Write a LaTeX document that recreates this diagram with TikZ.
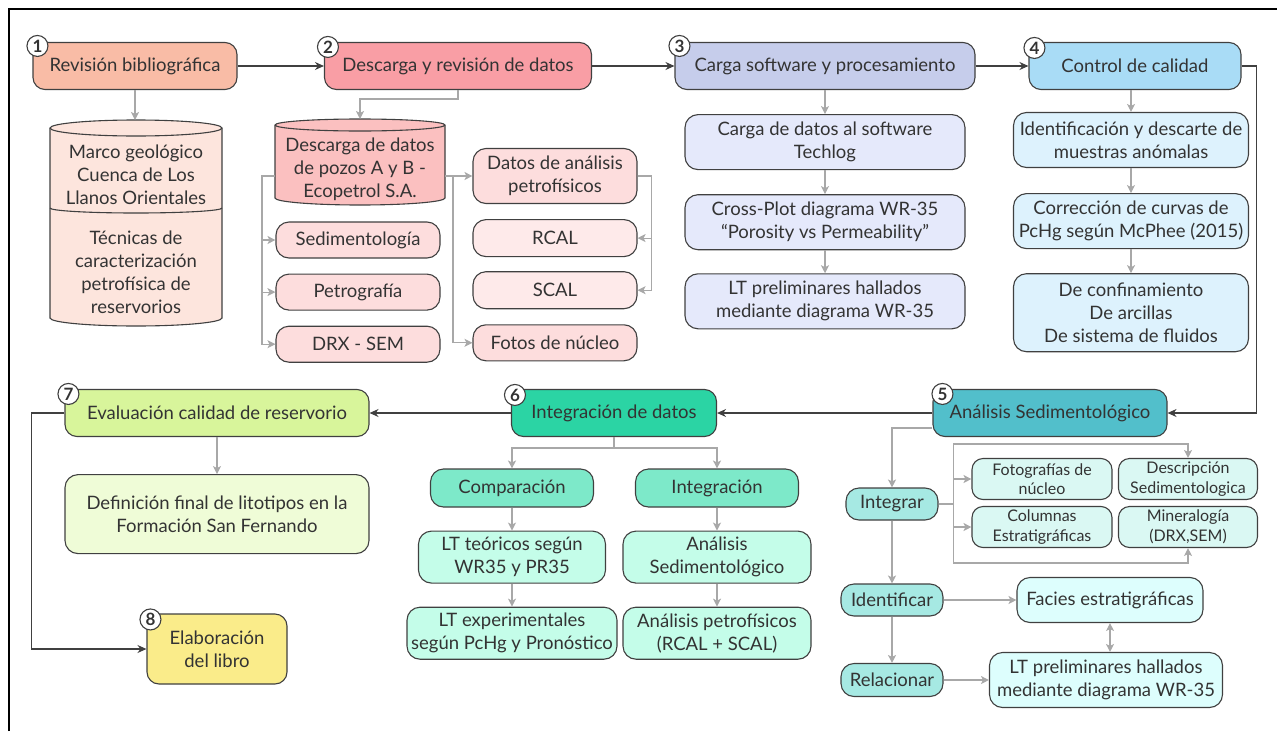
\documentclass[tikz,border=0pt]{standalone}
\usepackage{fontspec}
\setmainfont{Lato}
\usetikzlibrary{arrows.meta,positioning}
\definecolor{LineDark}  {HTML}{404040}
\definecolor{ArrowGray} {HTML}{A8A8A8}
\definecolor{TextDark}  {HTML}{333333}
\definecolor{RevFill}   {HTML}{F9BCA6}
\definecolor{RevLight}  {HTML}{FDE5DD}
\definecolor{DescFill}  {HTML}{F99EA5}
\definecolor{DescMid}   {HTML}{FBC0C0}
\definecolor{DescLight} {HTML}{FDDDDD}
\definecolor{DescPale}  {HTML}{FEEAEA}
\definecolor{CargaFill} {HTML}{C6CDEB}
\definecolor{CargaLight}{HTML}{E5E9FB}
\definecolor{CtrlFill}  {HTML}{A9DCF6}
\definecolor{CtrlLight} {HTML}{DDF2FD}
\definecolor{SedFill}   {HTML}{52BFCB}
\definecolor{SedMid}    {HTML}{A6E9E3}
\definecolor{SedLight}  {HTML}{DAF8F3}
\definecolor{SedPale}   {HTML}{DDFEFD}
\definecolor{IntFill}   {HTML}{2BD4A4}
\definecolor{IntMid}    {HTML}{7DE9C9}
\definecolor{IntLight}  {HTML}{C4FDE9}
\definecolor{EvalFill}  {HTML}{D8F59B}
\definecolor{EvalLight} {HTML}{EFFCD7}
\definecolor{LibroFill} {HTML}{FAEC8A}

\begin{document}
\begin{tikzpicture}[x=1pt,y=1pt,
  font=\fontsize{18.5}{23}\selectfont,
  stage/.style={draw=LineDark,line width=1.1pt,rounded corners=12pt,
    minimum height=47pt,inner sep=2pt,align=center,text=TextDark},
  box/.style={draw=LineDark,line width=1.1pt,rounded corners=13pt,
    inner sep=2pt,align=center,text=TextDark},
  small/.style={box,rounded corners=11pt,font=\fontsize{16}{19.5}\selectfont},
  num/.style={circle,draw=LineDark,line width=1.1pt,fill=white,
    minimum size=21pt,inner sep=0pt,text=TextDark,
    font=\bfseries\fontsize{17}{17}\selectfont},
  cyl/.style={draw=LineDark,line width=1.1pt},
  arr/.style={-{Stealth[length=9pt,width=8pt]},draw=LineDark,line width=1.3pt},
  garr/.style={->,>={Stealth[length=8pt,width=8pt,inset=2pt]},
    draw=ArrowGray,line width=1.2pt}]
  \useasboundingbox (0,0) rectangle (1277,-731);
  \draw[line width=2pt] (9,-731) -- (9,-9) -- (1277,-9);
  % Stages, top row
  \node[stage,fill=RevFill,minimum width=204pt](rev) at (135,-66)
    {Revisión bibliográfica};
  \node[stage,fill=DescFill,minimum width=267pt](desc) at (458,-66)
    {Descarga y revisión de datos};
  \node[stage,fill=CargaFill,minimum width=300pt](carga) at (825,-66)
    {Carga software y procesamiento};
  \node[stage,fill=CtrlFill,minimum width=212pt](ctrl) at (1135,-66)
    {Control de calidad};
  % Cylinders
  \coordinate (cylAtop) at (136,-120);
  \draw[cyl,fill=RevLight] (50,-128) -- (50,-318)
    arc[start angle=180,end angle=360,x radius=86,y radius=8] -- (222,-128)
    arc[start angle=0,end angle=180,x radius=86,y radius=8] -- cycle;
  \draw[cyl] (50,-128) arc[start angle=180,end angle=360,x radius=86,y radius=8];
  \draw[cyl] (50,-208) arc[start angle=180,end angle=360,x radius=86,y radius=5];
  \node[align=center,text=TextDark](marco) at (136,-175)
    {Marco geológico\\Cuenca de Los\\Llanos Orientales};
  \node[align=center,text=TextDark](tecn) at (136,-272)
    {Técnicas de\\caracterización\\petrofísica de\\reservorios};
  \coordinate (cylBtop) at (360,-119);
  \coordinate (cylBw) at (275,-176);
  \coordinate (cylBe) at (445,-176);
  \draw[cyl,fill=DescMid] (275,-125) -- (275,-198)
    arc[start angle=180,end angle=360,x radius=85,y radius=7] -- (445,-125)
    arc[start angle=0,end angle=180,x radius=85,y radius=6] -- cycle;
  \draw[cyl] (275,-125) arc[start angle=180,end angle=360,x radius=85,y radius=6];
  \node[align=center,text=TextDark](pozos) at (360,-169)
    {Descarga de datos\\de pozos A y B -\\Ecopetrol S.A.};
  % Stage 2 items
  \node[box,fill=DescLight,minimum width=164pt,minimum height=36pt](sedi)
    at (358,-240) {Sedimentología};
  \node[box,fill=DescLight,minimum width=164pt,minimum height=36pt,
    below=15pt of sedi](petro) {Petrografía};
  \node[box,fill=DescLight,minimum width=164pt,minimum height=36pt,
    below=15pt of petro](drx) {DRX - SEM};
  \node[box,fill=DescLight,minimum width=164pt,minimum height=55pt](datos)
    at (555,-176) {Datos de análisis\\petrofísicos};
  \node[box,fill=DescPale,minimum width=164pt,minimum height=37pt,
    below=15pt of datos](rcal) {RCAL};
  \node[box,fill=DescPale,minimum width=164pt,minimum height=37pt,
    below=14pt of rcal](scal) {SCAL};
  \node[box,fill=DescLight,minimum width=164pt,minimum height=36pt,
    below=15pt of scal](fotos) {Fotos de núcleo};
  % Stage 3 items
  \node[box,fill=CargaLight,minimum width=280pt,minimum height=55pt,
    below=24pt of carga](techlog) {Carga de datos al software\\Techlog};
  \node[box,fill=CargaLight,minimum width=280pt,minimum height=55pt,
    below=24pt of techlog](cross)
    {Cross-Plot diagrama WR-35\\“Porosity vs Permeability”};
  \node[box,fill=CargaLight,minimum width=280pt,minimum height=55pt,
    below=23pt of cross](ltwr) {LT preliminares hallados\\mediante diagrama WR-35};
  % Stage 4 items
  \node[box,fill=CtrlLight,minimum width=235pt,minimum height=55pt](anom)
    at (1131,-140) {Identificación y descarte de\\muestras anómalas};
  \node[box,fill=CtrlLight,minimum width=235pt,minimum height=55pt,
    below=25pt of anom](mcphee) {Corrección de curvas de\\PcHg según McPhee (2015)};
  \node[box,fill=CtrlLight,minimum width=235pt,minimum height=78pt,
    below=24pt of mcphee](confi)
    {De confinamiento\\De arcillas\\De sistema de fluidos};
  % Stages, bottom row
  \node[stage,fill=SedFill,minimum width=234pt](sedan) at (1050,-413)
    {Análisis Sedimentológico};
  \node[stage,fill=IntFill,minimum width=205pt](integ) at (614,-413)
    {Integración de datos};
  \node[stage,fill=EvalFill,minimum width=304pt](eval) at (217,-413)
    {Evaluación calidad de reservorio};
  \node[stage,fill=LibroFill,minimum width=140pt,minimum height=70pt](libro)
    at (217,-649) {Elaboración\\del libro};
  \node[box,fill=EvalLight,minimum width=304pt,minimum height=79pt,
    below=37pt of eval](litot)
    {Definición final de litotipos en la\\Formación San Fernando};
  % Stage 6 items
  \node[box,fill=IntMid,minimum width=163pt,minimum height=38pt](compa)
    at (512,-488) {Comparación};
  \node[box,fill=IntMid,minimum width=163pt,minimum height=38pt](integra)
    at (717,-488) {Integración};
  \node[box,fill=IntLight,minimum width=187pt,minimum height=52pt,
    below=23pt of compa](lteo) {LT teóricos según\\WR35 y PR35};
  \node[box,fill=IntLight,minimum width=210pt,minimum height=52pt,
    below=23pt of lteo](lexp) {LT experimentales\\según PcHg y Pronóstico};
  \node[box,fill=IntLight,minimum width=188pt,minimum height=52pt,
    below=23pt of integra](asedi) {Análisis\\Sedimentológico};
  \node[box,fill=IntLight,minimum width=188pt,minimum height=52pt,
    below=23pt of asedi](apetro) {Análisis petrofísicos\\(RCAL + SCAL)};
  % Stage 5 items
  \node[box,fill=SedMid,minimum width=92pt,minimum height=32pt](integrar)
    at (892,-504) {Integrar};
  \node[box,fill=SedMid,minimum width=102pt,minimum height=32pt](identif)
    at (892,-600) {Identificar};
  \node[box,fill=SedMid,minimum width=102pt,minimum height=33pt](relac)
    at (892,-680) {Relacionar};
  \node[small,fill=SedLight,minimum width=140pt,minimum height=41pt](fotog)
    at (1042,-479) {Fotografías de\\núcleo};
  \node[small,fill=SedLight,minimum width=139pt,minimum height=41pt](descr)
    at (1188,-479) {Descripción\\Sedimentologica};
  \node[small,fill=SedLight,minimum width=140pt,minimum height=41pt](colum)
    at (1042,-527) {Columnas\\Estratigráficas};
  \node[small,fill=SedLight,minimum width=139pt,minimum height=41pt](miner)
    at (1188,-527) {Mineralogía\\(DRX,SEM)};
  \node[box,fill=SedPale,minimum width=186pt,minimum height=45pt](facies)
    at (1110,-600) {Facies estratigráficas};
  \node[box,fill=SedPale,minimum width=233pt,minimum height=55pt](ltpre)
    at (1106,-680) {LT preliminares hallados\\mediante diagrama WR-35};
  % Step numbers
  \node[num](n1) at ([shift={(5,-4)}]rev.north west) {1};
  \node[num](n2) at ([shift={(4,-5)}]desc.north west) {2};
  \node[num](n3) at ([shift={(5,-4)}]carga.north west) {3};
  \node[num](n4) at ([shift={(6,-6)}]ctrl.north west) {4};
  \node[num](n5) at ([shift={(10,-5)}]sedan.north west) {5};
  \node[num](n6) at ([shift={(4,-6)}]integ.north west) {6};
  \node[num](n7) at ([shift={(4,-5)}]eval.north west) {7};
  \node[num](n8) at ([shift={(4,-6)}]libro.north west) {8};
  % Main flow
  \draw[arr](rev)--(desc);
  \draw[arr](desc)--(carga);
  \draw[arr](carga)--(ctrl);
  \draw[arr](ctrl.east)--++(15,0)|-(sedan.east);
  \draw[arr](sedan)--(integ);
  \draw[arr](integ)--(eval);
  \draw[arr](eval.west)--++(-33,0)|-(libro.west);
  % Branches
  \draw[garr](rev.south)--(rev.south|-cylAtop);
  \draw[garr](desc.south)--++(0,-9)-|(cylBtop);
  \draw[garr](cylBw)--++(-13,0)|-(sedi.west);
  \draw[garr](cylBw)--++(-13,0)|-(petro.west);
  \draw[garr](cylBw)--++(-13,0)|-(drx.west);
  \draw[garr](cylBe)--(datos.west);
  \draw[garr](cylBe)--++(8,0)|-(fotos.west);
  \draw[garr](datos.east)--++(14,0)|-(rcal.east);
  \draw[garr](datos.east)--++(14,0)|-(scal.east);
  \draw[garr](carga)--(techlog);
  \draw[garr](techlog)--(cross);
  \draw[garr](cross)--(ltwr);
  \draw[garr](ctrl.south-|anom.north)--(anom.north);
  \draw[garr](anom)--(mcphee);
  \draw[garr](mcphee)--(confi);
  \draw[garr](eval)--(litot);
  \draw[garr](integ.south)--++(0,-11)-|(compa.north);
  \draw[garr](integ.south)--++(0,-11)-|(integra.north);
  \draw[garr](compa)--(lteo);
  \draw[garr](lteo)--(lexp);
  \draw[garr](integra)--(asedi);
  \draw[garr](asedi)--(apetro);
  \draw[garr]([yshift=-15pt]sedan.west)-|(integrar.north);
  \draw[garr](integrar)--(identif);
  \draw[garr](identif)--(relac);
  \draw[garr](integrar.east)--++(15,0)|-([yshift=14pt]descr.north)--(descr.north);
  \draw[garr](integrar.east)--++(15,0)|-([yshift=-15pt]miner.south)--(miner.south);
  \draw[garr](integrar.east)--++(15,0)|-(fotog.west);
  \draw[garr](integrar.east)--++(15,0)|-(colum.west);
  \draw[garr](identif)--(facies);
  \draw[garr](relac)--(ltpre);
  \draw[garr,<->](facies.south)--(facies.south|-ltpre.north);
\end{tikzpicture}
\end{document}
